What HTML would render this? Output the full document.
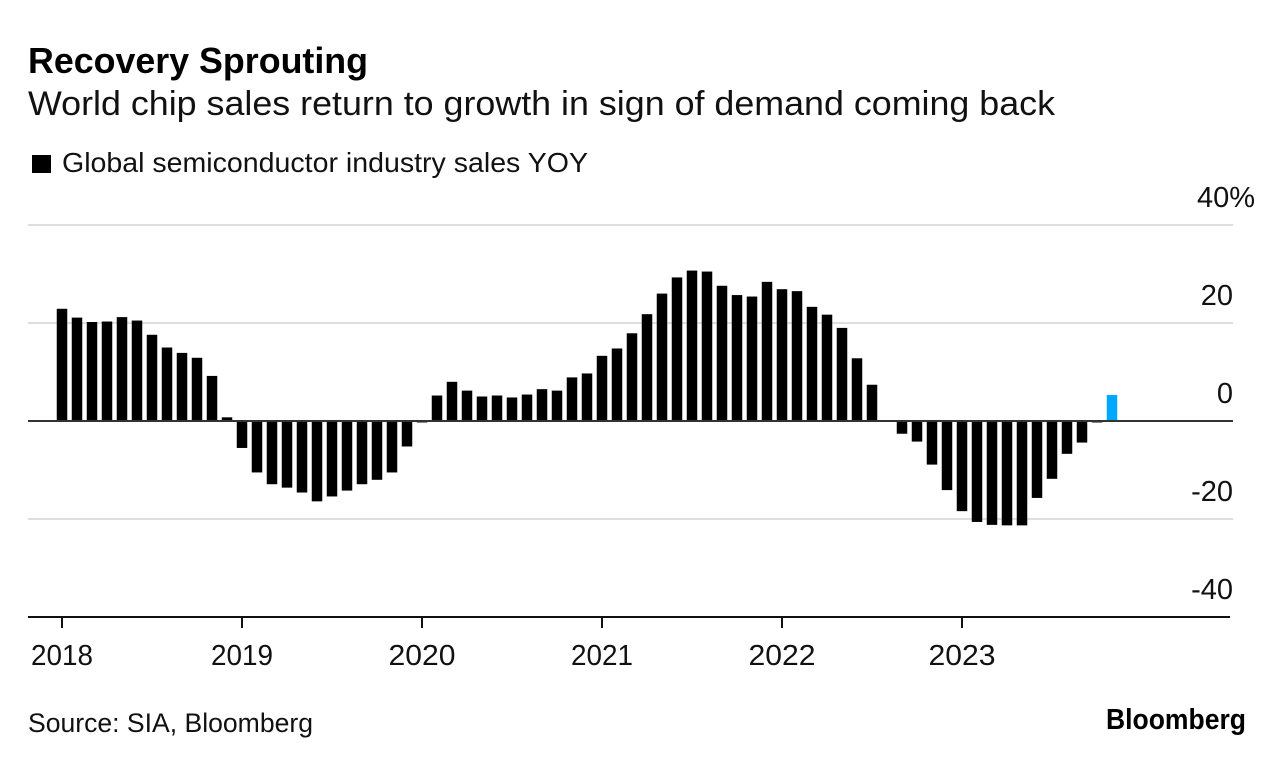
<!DOCTYPE html>
<html lang="en">
<head>
<meta charset="utf-8">
<title>Recovery Sprouting</title>
<style>
html,body{margin:0;padding:0;background:#fff;}
svg{display:block;font-family:"Liberation Sans",sans-serif;fill:#111;}
</style>
</head>
<body>
<svg id="chart" width="1285" height="764" viewBox="0 0 1285 764" xmlns="http://www.w3.org/2000/svg">
  <rect x="0" y="0" width="1285" height="764" fill="#fff"/>
  <text x="28" y="73" font-size="36" font-weight="700" fill="#000" textLength="340" lengthAdjust="spacingAndGlyphs">Recovery Sprouting</text>
  <text x="28" y="115" font-size="34" fill="#111" textLength="1027" lengthAdjust="spacingAndGlyphs">World chip sales return to growth in sign of demand coming back</text>
  <rect x="32" y="155" width="19" height="18" fill="#000"/>
  <text x="62" y="172" font-size="27.5" fill="#111" textLength="526" lengthAdjust="spacingAndGlyphs">Global semiconductor industry sales YOY</text>
  <g id="grid"></g>
  <g id="bars"></g>
  <g id="yaxis"></g>
  <g id="xaxis"></g>
  <text x="28" y="732" font-size="27" fill="#111" textLength="285" lengthAdjust="spacingAndGlyphs">Source: SIA, Bloomberg</text>
  <text x="1106" y="729" font-size="29" font-weight="700" fill="#000" textLength="140" lengthAdjust="spacingAndGlyphs">Bloomberg</text>
</svg>
<script>
const salesYoy = [
  22.9,21.1,20.2,20.3,21.2,20.5,17.6,15.0,13.9,12.9,9.2,0.75,
  -5.5,-10.5,-12.9,-13.6,-14.6,-16.4,-15.4,-14.2,-12.9,-12.0,-10.5,-5.2,
  -0.3,5.2,8.0,6.2,5.0,5.2,4.8,5.4,6.5,6.2,8.9,9.7,
  13.3,14.8,17.9,21.8,26.0,29.3,30.7,30.5,27.6,25.7,25.4,28.4,
  26.9,26.5,23.3,21.7,19.0,12.8,7.4,-0.2,-2.6,-4.2,-8.9,-14.1,
  -18.4,-20.6,-21.2,-21.3,-21.3,-15.7,-11.8,-6.7,-4.4,-0.3,5.3
];
const highlightedMonths = [70];
const yTicks = [40,20,0,-20,-40];
const yTickLabels = ['40%','20','0','-20','-40'];
const yearLabels = ['2018','2019','2020','2021','2022','2023'];
const monthsPerYear = 12;

const NS = 'http://www.w3.org/2000/svg';
function xScale(monthIndex){ return 62 + monthIndex * 15; }
function yScale(value){ return 421 - value * 4.9; }
function make(tag, attrs, parent){
  const el = document.createElementNS(NS, tag);
  for (const k in attrs) el.setAttribute(k, attrs[k]);
  parent.appendChild(el);
  return el;
}

const grid = document.getElementById('grid');
const yaxis = document.getElementById('yaxis');
yTicks.forEach(function(t, i){
  if (t !== 0 && t !== -40) {
    const gl = make('line', {x1:28, x2:1233, y1:yScale(t), y2:yScale(t), stroke:'#dedede', 'stroke-width':2}, grid);
    
    
  }
  const isTop = i === 0;
  const lbl = make('text', {x: isTop ? 1197 : 1233, y: yScale(t) - 18, 'font-size':29, 'text-anchor': isTop ? 'start' : 'end', fill:'#111'}, yaxis);
  
  
  lbl.textContent = yTickLabels[i];
});

const barsG = document.getElementById('bars');
salesYoy.forEach(function(v, i){
  const top = Math.min(yScale(v), yScale(0));
  const h = Math.abs(yScale(v) - yScale(0));
  const r = make('rect', {x: xScale(i) - 5.25, y: top, width: 10.5, height: h, fill: highlightedMonths.indexOf(i) >= 0 ? '#00a8ff' : '#000'}, barsG);
  
  
});
const zero = make('line', {x1:28, x2:1233, y1:yScale(0), y2:yScale(0), stroke:'#333', 'stroke-width':2}, barsG);



const xaxis = document.getElementById('xaxis');
const axisLine = make('line', {x1:28, x2:1230, y1:yScale(-40), y2:yScale(-40), stroke:'#111', 'stroke-width':2}, xaxis);


yearLabels.forEach(function(y, i){
  const x = xScale(i * monthsPerYear);
  const tick = make('line', {x1:x, x2:x, y1:yScale(-40), y2:yScale(-40) + 11, stroke:'#111', 'stroke-width':2}, xaxis);
  
  
  const lbl = make('text', {x:x, y:665, 'font-size':29, 'text-anchor':'middle', fill:'#111', textLength: y.indexOf('1') >= 0 ? 62 : 67, lengthAdjust:'spacingAndGlyphs'}, xaxis);
  
  
  lbl.textContent = y;
});
</script>
</body>
</html>
